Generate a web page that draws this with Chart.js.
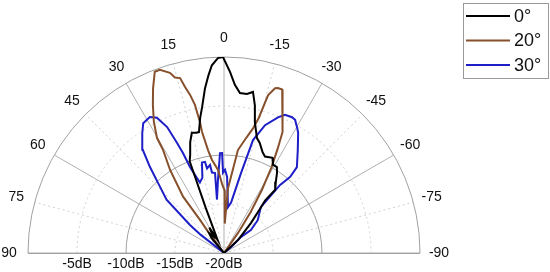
<!DOCTYPE html>
<html>
<head>
<meta charset="utf-8">
<script src="https://cdn.jsdelivr.net/npm/chart.js@4.4.1/dist/chart.umd.min.js"></script>
<style>
  body { margin: 0; background: #fff; }
  #wrap { width: 550px; height: 272px; position: relative; }
</style>
</head>
<body>
<div id="wrap"><canvas id="myChart"></canvas></div>
<script>
// angles in degrees (positive = left of broadside), levels in dB
const seriesNames = ['0°', '20°', '30°'];

const ang0 = [90, 45, 40, 37, 33, 30, 26, 22, 20.5, 19, 17, 15, 13, 11.7, 10, 8.6, 6.6, 5, 3.7, 1.8, 0.3,
  -1.9, -3.7, -5.7, -8.2, -10.2, -11.8, -13.3, -16, -18, -21, -23, -27, -29, -31.6, -33.5, -36, -39,
  -38, -39, -42, -47, -55, -90];
const db0 = [-20, -20, -18, -17.5, -18, -17, -18.5, -15, -10, -9.4, -8.2, -7.3, -7.4, -7.4, -6.0, -5.0, -3.1, -1.8, -0.8, -0.1, 0,
  -1.5, -2.8, -3.6, -3.6, -3.3, -4.6, -6.3, -7.8, -8.2, -9.0, -9.3, -9.1, -9.7, -9.7, -10.2, -11, -11.7,
  -13.2, -14, -15.9, -18, -20, -20];

const ang20 = [90, 42, 37, 36, 36, 33, 30.6, 30.2, 28.1, 25.6, 23.3, 20.9, 19.3, 16.7, 15.6, 14.1, 13.2, 12.1, 11.1,
  10.7, 10.4, 10.3, 8.8, 7.4, 4.1, 1.5, -0.5, -1.5, -3.5, -7.7, -11, -13, -14.4, -15.6, -17.2, -18.1, -19.6,
  -20.8, -23.1, -25.6, -27.2, -29, -31, -33, -35, -38, -90];
const db20 = [-20, -20, -17.5, -15.8, -12.9, -9.9, -7.8, -6.4, -4.8, -3.2, -1.7, -0.2, -0.2, -0.8, -1.4, -1.6, -2.6, -3.5, -4.6,
  -5.7, -6.4, -7.4, -9.4, -10.4, -11.5, -13, -13.6, -17, -13.4, -9.4, -8, -7, -5.8, -3.3, -2.4, -2.3, -2.3,
  -3.1, -4.7, -6.3, -8.0, -10, -12.5, -15, -17.5, -20, -20];

const ang30 = [90, 60, 52, 50.5, 47.1, 43.3, 40.7, 38.2, 34.3, 31.9, 28.6, 26.4, 24.3, 23.1, 22.3, 21.6, 18.9, 16,
  13.7, 11.8, 11.3, 9.0, 8.5, 6.4, 7.5, 4.7, 2.3, 1.1, 0.7, -0.7, -2.3, -5, -8, -12, -14.4, -17.8, -21.7,
  -23.8, -26.6, -28.1, -30.3, -31.7, -35.7, -40.3, -41, -39.5, -38.8, -45.8, -49.6, -46.7, -50, -60, -90];
const db30 = [-20, -20, -17, -15.5, -12.0, -10.2, -8.4, -6.6, -5.2, -4.4, -4.2, -4.6, -5.9, -7.8, -9.0, -10.6, -12.4, -12,
  -10.5, -10.5, -11.2, -10.9, -11.7, -11.8, -14.5, -12.5, -9.8, -9.8, -11.8, -11.5, -12.2, -15.3, -14.8, -11.7, -8.1, -6.3, -5.1,
  -4.6, -4.5, -4.6, -5.2, -5.6, -7.1, -8.5, -9.7, -11, -14, -15.2, -16.4, -17.6, -19, -20, -20];

const ringLabels = ['-5dB', '-10dB', '-15dB', '-20dB'];
const ringValues = [15, 10, 5, 0];
const angleTicks = [90, 75, 60, 45, 30, 15, 0, -15, -30, -45, -60, -75, -90];

const colors = ['#000000', 'rgb(135,80,45)', 'rgb(30,30,200)'];

function toXY(angles, dbs) {
  return angles.map((a, i) => {
    const r = Math.max(0, Math.min(20, dbs[i] + 20));
    const t = a * Math.PI / 180;
    return { x: -r * Math.sin(t), y: r * Math.cos(t) };
  });
}

const polarGrid = {
  id: 'polarGrid',
  beforeDatasetsDraw(chart) {
    const ctx = chart.ctx;
    const sx = chart.scales.x, sy = chart.scales.y;
    const cx = sx.getPixelForValue(0), cy = sy.getPixelForValue(0);
    const unit = sx.getPixelForValue(1) - cx;
    const R = 20 * unit;
    ctx.save();
    // spokes
    angleTicks.forEach(a => {
      const t = a * Math.PI / 180;
      ctx.beginPath();
      if (a % 30 === 0) { ctx.setLineDash([]); ctx.strokeStyle = '#b0b0b0'; }
      else { ctx.setLineDash([2, 3]); ctx.strokeStyle = '#d0d0d0'; }
      ctx.lineWidth = 1;
      ctx.moveTo(cx, cy);
      ctx.lineTo(cx - R * Math.sin(t), cy - R * Math.cos(t));
      ctx.stroke();
    });
    // rings
    [5, 10, 15, 20].forEach(v => {
      ctx.beginPath();
      if (v % 10 === 0) { ctx.setLineDash([]); ctx.strokeStyle = '#a0a0a0'; }
      else { ctx.setLineDash([2, 3]); ctx.strokeStyle = '#d0d0d0'; }
      ctx.arc(cx, cy, v * unit, Math.PI, 2 * Math.PI);
      ctx.stroke();
    });
    ctx.setLineDash([]);
    ctx.strokeStyle = '#a0a0a0';
    ctx.beginPath();
    ctx.moveTo(cx - R, cy + 0.5);
    ctx.lineTo(cx + R, cy + 0.5);
    ctx.stroke();
    // labels
    ctx.fillStyle = '#111';
    ctx.font = '14px "Liberation Sans", Arial, sans-serif';
    ctx.textAlign = 'center';
    ctx.textBaseline = 'middle';
    angleTicks.forEach(a => {
      const t = a * Math.PI / 180;
      const rr = R + 19;
      ctx.fillText(String(a), cx - rr * Math.sin(t), cy - rr * Math.cos(t));
    });
    ringLabels.forEach((lab, i) => {
      ctx.fillText(lab, cx - ringValues[i] * unit, cy + 11);
    });
    ctx.restore();
  },
  afterDraw(chart) {
    const ctx = chart.ctx;
    ctx.save();
    ctx.fillStyle = '#fff';
    ctx.fillRect(463, 3, 85, 75);
    ctx.strokeStyle = '#999';
    ctx.lineWidth = 1;
    ctx.strokeRect(463.5, 3.5, 85, 75);
    ctx.font = '18px "Liberation Sans", Arial, sans-serif';
    ctx.textAlign = 'left';
    ctx.textBaseline = 'middle';
    chart.data.datasets.forEach((ds, i) => {
      const y = 16 + i * 24.5;
      ctx.strokeStyle = ds.borderColor;
      ctx.lineWidth = 2;
      ctx.beginPath();
      ctx.moveTo(466, y);
      ctx.lineTo(510, y);
      ctx.stroke();
      ctx.fillStyle = '#111';
      ctx.fillText(ds.label, 514, y + 1);
    });
    ctx.restore();
  }
};

const data = {
  datasets: [
    { label: seriesNames[0], data: toXY(ang0, db0), borderColor: colors[0] },
    { label: seriesNames[1], data: toXY(ang20, db20), borderColor: colors[1] },
    { label: seriesNames[2], data: toXY(ang30, db30), borderColor: colors[2] }
  ].map(d => Object.assign(d, { showLine: true, pointRadius: 0, borderWidth: 2, tension: 0, fill: false }))
};

const config = {
  type: 'scatter',
  data: data,
  options: {
    responsive: true,
    maintainAspectRatio: false,
    animation: false,
    layout: { padding: { left: 28, right: 130, top: 57, bottom: 19 } },
    scales: {
      x: { type: 'linear', min: -20, max: 20, display: false },
      y: { type: 'linear', min: 0, max: 20, display: false }
    },
    plugins: { legend: { display: false }, tooltip: { enabled: false } }
  },
  plugins: [polarGrid]
};

const myChart = new Chart(document.getElementById('myChart'), config);
</script>
</body>
</html>
